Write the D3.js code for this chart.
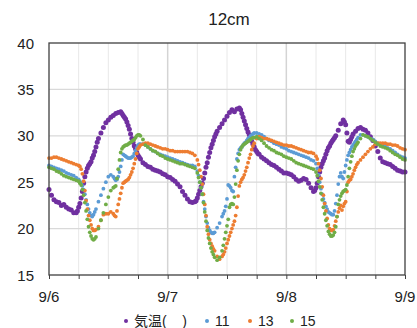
<!DOCTYPE html>
<html>
<head>
<meta charset="utf-8">
<script src="https://cdn.jsdelivr.net/npm/d3@7/dist/d3.min.js"></script>
<style>
  html, body { margin: 0; padding: 0; background: #fff; }
  svg { display: block; font-family: "Liberation Sans", Arial, "Noto Sans CJK JP", sans-serif; }
</style>
</head>
<body>
<div id="chart"></div>
<script>
// half-hourly readings, 9/6 00:00 -> 9/9 00:00 (hours since start)
const hours = d3.range(0, 72.5, 0.5);

const airTemp = [
  24.2,23.6,23.1,22.9,22.8,22.5,22.6,22.3,22.1,22.0,21.7,21.7,
  22.3,23.3,24.9,26.1,26.8,27.2,27.9,28.8,29.7,30.3,30.9,31.4,
  31.7,32.0,32.2,32.4,32.5,32.6,32.2,31.8,31.1,30.2,29.3,28.6,
  27.9,27.5,27.1,26.9,26.7,26.6,26.4,26.3,26.2,26.1,25.9,25.8,
  25.6,25.5,25.3,25.1,24.8,24.5,24.0,23.6,23.2,22.9,22.8,22.9,
  23.3,24.1,24.9,26.0,27.1,28.2,29.1,29.9,30.5,30.9,31.3,31.7,
  32.1,32.5,32.8,32.6,32.9,33.0,32.4,31.6,30.8,30.1,29.4,28.8,
  28.3,28.0,27.7,27.5,27.3,27.1,26.9,26.8,26.6,26.4,26.2,26.0,
  26.0,25.9,25.8,25.6,25.3,25.1,25.2,25.4,25.3,24.9,24.4,24.0,
  24.4,25.6,26.6,27.3,28.0,28.7,29.2,29.6,30.0,30.6,31.3,31.7,
  31.2,29.4,29.6,30.2,30.5,30.8,30.9,30.7,30.6,30.3,29.9,29.5,
  28.9,28.3,27.6,27.2,27.1,27.0,26.9,26.7,26.5,26.3,26.2,26.1,
  26.1
];
const temp11 = [
  26.8,26.7,26.6,26.5,26.4,26.3,26.2,26.0,25.9,25.8,25.7,25.5,
  25.3,24.9,24.2,23.1,22.1,21.4,21.5,22.1,22.9,23.6,24.3,25.0,
  25.6,25.8,25.6,25.2,25.6,26.7,28.0,27.8,27.6,27.6,27.8,28.4,
  29.0,29.1,29.1,29.0,28.8,28.6,28.4,28.3,28.1,28.0,27.9,27.8,
  27.7,27.6,27.5,27.4,27.3,27.2,27.1,27.0,26.9,26.8,26.8,26.7,
  26.2,25.0,23.7,22.1,20.6,19.8,19.5,19.6,20.1,20.6,21.3,21.9,
  23.2,24.6,24.1,25.6,27.5,28.5,28.8,29.2,29.5,29.8,30.1,30.3,
  30.3,30.2,30.1,29.9,29.7,29.5,29.4,29.2,29.1,29.0,28.8,28.7,
  28.6,28.4,28.3,28.2,28.1,28.0,27.9,27.8,27.7,27.6,27.4,27.3,
  27.0,25.8,24.3,23.2,22.4,21.8,21.6,21.5,22.7,24.8,26.0,25.4,
  26.8,27.9,28.5,29.0,29.4,29.8,30.1,30.1,30.0,29.9,29.7,29.6,
  29.4,29.2,29.1,29.0,28.9,28.7,28.6,28.4,28.2,28.0,27.8,27.7,
  27.6
];
const temp13 = [
  27.6,27.6,27.7,27.7,27.6,27.5,27.4,27.3,27.2,27.1,27.0,26.9,
  26.8,26.4,25.1,23.0,21.4,20.4,19.8,19.9,20.2,20.9,21.5,21.6,
  21.6,21.8,21.6,21.3,22.6,23.8,24.9,25.1,25.3,25.8,26.5,27.5,
  28.6,29.0,29.1,29.2,29.2,29.1,29.0,28.9,28.8,28.7,28.6,28.6,
  28.5,28.4,28.4,28.3,28.3,28.3,28.3,28.3,28.3,28.2,28.1,27.9,
  27.4,26.3,24.8,22.6,20.2,18.8,18.1,17.6,17.0,16.7,17.0,17.5,
  18.4,19.2,20.0,20.8,22.3,24.6,25.3,25.8,26.6,27.6,28.5,29.2,
  29.7,29.9,29.8,29.7,29.7,29.6,29.5,29.4,29.3,29.2,29.1,29.0,
  29.0,28.9,28.9,28.8,28.7,28.6,28.5,28.4,28.3,28.2,28.2,28.1,
  27.8,27.0,25.4,23.6,21.9,20.4,19.8,19.9,20.8,21.8,22.5,22.4,
  22.9,25.0,25.3,25.9,26.6,27.1,27.4,27.7,28.0,28.3,28.6,28.8,
  29.1,29.2,29.2,29.2,29.2,29.1,29.1,29.0,29.0,28.9,28.7,28.6,
  28.5
];
const temp15 = [
  26.6,26.5,26.4,26.2,26.1,25.9,25.7,25.6,25.5,25.4,25.3,25.2,
  25.1,24.7,23.6,21.9,20.2,19.2,18.8,19.1,20.0,20.9,21.7,22.6,
  23.4,24.1,24.4,24.6,26.4,28.2,28.8,29.0,29.1,29.3,29.5,29.8,
  30.1,30.0,29.6,29.0,28.8,28.6,28.4,28.3,28.1,27.9,27.8,27.6,
  27.5,27.4,27.3,27.2,27.1,27.0,27.0,26.9,26.8,26.7,26.6,26.5,
  26.0,25.0,23.7,21.8,19.8,18.4,17.5,16.9,16.6,16.9,17.6,18.9,
  20.3,22.3,22.7,23.4,26.3,28.0,28.8,29.1,29.3,29.5,29.7,29.8,
  29.9,29.7,29.5,29.2,28.9,28.7,28.5,28.4,28.2,28.1,28.0,27.8,
  27.7,27.6,27.5,27.3,27.1,27.0,26.9,26.8,26.7,26.6,26.5,26.4,
  26.1,25.1,23.8,22.3,20.9,19.7,19.2,19.3,20.2,22.6,23.5,24.0,
  24.2,25.6,27.2,28.3,28.9,29.3,29.7,30.1,30.0,29.9,29.7,29.5,
  29.3,29.1,28.9,28.8,28.7,28.6,28.4,28.2,28.0,27.9,27.7,27.5,
  27.4
];

// extra quarter-hour readings where the curves move fast
const airQWindows = [[5.75, 9.75], [14.75, 18.25], [29.75, 33.75], [38.75, 42.25], [53.75, 57.75], [59.75, 61.25]];
const soilQWindows = [[6.25, 9.25], [13.25, 18.25], [30.25, 33.25], [35.25, 41.25], [54.25, 57.25], [57.75, 62.25]];

const airTempQ = [
  21.9,22.7,24.0,25.6,26.5,27.0,27.6,28.3,29.3,
  32.4,32.0,31.5,30.7,29.7,28.9,28.2,27.7,
  23.0,23.7,24.5,25.4,26.6,27.7,28.7,29.5,30.2,
  32.8,32.0,31.2,30.4,29.7,29.1,28.5,28.1,
  24.1,24.9,26.1,27.0,27.6,28.4,28.9,29.4,29.8,
  31.5,30.3,29.3,29.9
];
const temp11Q = [
  25.1,24.6,23.7,22.6,21.7,21.3,21.8,
  25.4,25.3,26.1,27.4,27.9,27.7,27.6,27.7,28.1,28.7,29.1,
  25.7,24.4,22.9,21.3,20.1,19.6,19.5,
  21.6,22.4,24.7,24.4,24.0,26.6,28.1,28.7,29.0,29.3,29.7,30.0,30.2,
  26.5,25.0,23.7,22.8,22.1,21.7,21.5,
  21.9,23.6,25.6,25.6,26.1,27.4,28.2,28.8,29.2,29.6
];
const temp13Q = [
  26.7,25.9,24.1,22.1,20.9,20.0,19.8,
  21.4,21.9,23.2,24.4,25.0,25.2,25.5,26.1,27.0,28.1,28.8,
  26.9,25.6,23.7,21.4,19.4,18.4,17.8,
  17.2,17.9,18.8,19.6,20.4,21.4,23.5,25.0,25.5,26.2,27.1,28.0,28.9,
  27.5,26.3,24.5,22.7,21.1,20.0,19.8,
  20.3,21.3,22.2,22.0,22.7,24.0,25.2,25.6,26.3,26.9
];
const temp15Q = [
  24.9,24.2,22.8,21.0,19.6,18.9,18.9,
  24.5,25.4,27.4,28.6,28.9,29.0,29.2,29.4,29.6,30.0,30.1,
  25.5,24.4,22.8,20.8,19.0,17.9,17.2,
  18.2,19.6,21.0,22.6,22.6,24.8,27.3,28.5,29.0,29.2,29.4,29.6,29.8,
  25.7,24.5,23.1,21.6,20.3,19.4,19.2,
  19.6,21.3,23.1,23.8,24.1,24.7,26.5,27.8,28.6,29.1
];

const seriesNames = ['気温(\u00a0\u00a0\u00a0\u00a0)', '11', '13', '15'];
const seriesColors = ['#7030A0', '#5B9BD5', '#ED7D31', '#70AD47'];
const seriesValues = [airTemp, temp11, temp13, temp15];
const seriesQValues = [airTempQ, temp11Q, temp13Q, temp15Q];
const dateLabels = ['9/6', '9/7', '9/8', '9/9'];
const yTicks = [15, 20, 25, 30, 35, 40];

const W = 417, H = 328;
const m = { left: 49, right: 12, top: 43, bottom: 53 };

const svg = d3.select('#chart').append('svg').attr('width', W).attr('height', H);

const x = d3.scaleLinear().domain([0, 72]).range([m.left, W - m.right]);
const y = d3.scaleLinear().domain([15, 40]).range([H - m.bottom, m.top]);

const qHours = wins => wins.flatMap(([a, b]) => d3.range(a, b + 0.01, 0.5));

// grid
const grid = svg.append('g');
grid.selectAll('line.v').data(d3.range(6, 72, 6)).join('line')
  .attr('x1', d => x(d)).attr('x2', d => x(d))
  .attr('y1', y(15)).attr('y2', y(40))
  .attr('stroke', d => d % 24 === 0 ? '#d4d4d4' : '#e8e8e8')
  .attr('stroke-width', d => d % 24 === 0 ? 1.5 : 1);
grid.selectAll('line.h').data(yTicks.slice(1, -1)).join('line')
  .attr('x1', x(0)).attr('x2', x(72))
  .attr('y1', d => y(d)).attr('y2', d => y(d))
  .attr('stroke', '#d9d9d9').attr('stroke-width', 1.2);

// points
seriesValues.forEach((vals, i) => {
  const qt = qHours(i === 0 ? airQWindows : soilQWindows);
  const pts = vals.map((v, j) => [hours[j], v])
    .concat(seriesQValues[i].map((v, j) => [qt[j], v]));
  svg.append('g').selectAll('circle').data(pts).join('circle')
    .attr('cx', d => x(d[0]))
    .attr('cy', d => y(d[1]))
    .attr('r', i === 0 ? 2.5 : 1.9)
    .attr('fill', seriesColors[i]);
});

// frame
svg.append('rect')
  .attr('x', x(0)).attr('y', y(40))
  .attr('width', x(72) - x(0)).attr('height', y(15) - y(40))
  .attr('fill', 'none').attr('stroke', '#404040').attr('stroke-width', 1.3);

// bottom ticks
svg.append('g').attr('transform', `translate(0,${y(15)})`)
  .call(d3.axisBottom(x).tickValues(d3.range(0, 73, 6)).tickSize(4).tickFormat(''))
  .call(g => g.select('.domain').remove())
  .call(g => g.selectAll('line').attr('stroke', '#404040'));

// x labels
svg.append('g').selectAll('text').data(dateLabels).join('text')
  .attr('x', (d, i) => x(i * 24)).attr('y', 302)
  .attr('text-anchor', 'middle').style('font-size', '15px').attr('fill', '#222')
  .text(d => d);

// y labels
svg.append('g').selectAll('text').data(yTicks).join('text')
  .attr('x', 34).attr('y', d => y(d) + 5.5)
  .attr('text-anchor', 'end').style('font-size', '15px').attr('fill', '#222')
  .text(d => d);

// title
svg.append('text').attr('x', 229).attr('y', 25).attr('text-anchor', 'middle')
  .style('font-size', '17px').attr('fill', '#222').text('12cm');

// legend
const legendX = [126, 207, 250, 292];
const lg = svg.append('g');
seriesNames.forEach((name, i) => {
  lg.append('circle').attr('cx', legendX[i]).attr('cy', 321).attr('r', 2).attr('fill', seriesColors[i]);
  lg.append('text').attr('x', legendX[i] + 8).attr('y', 326)
    .style('font-size', '14px').attr('fill', '#222').text(name);
});
</script>
</body>
</html>
